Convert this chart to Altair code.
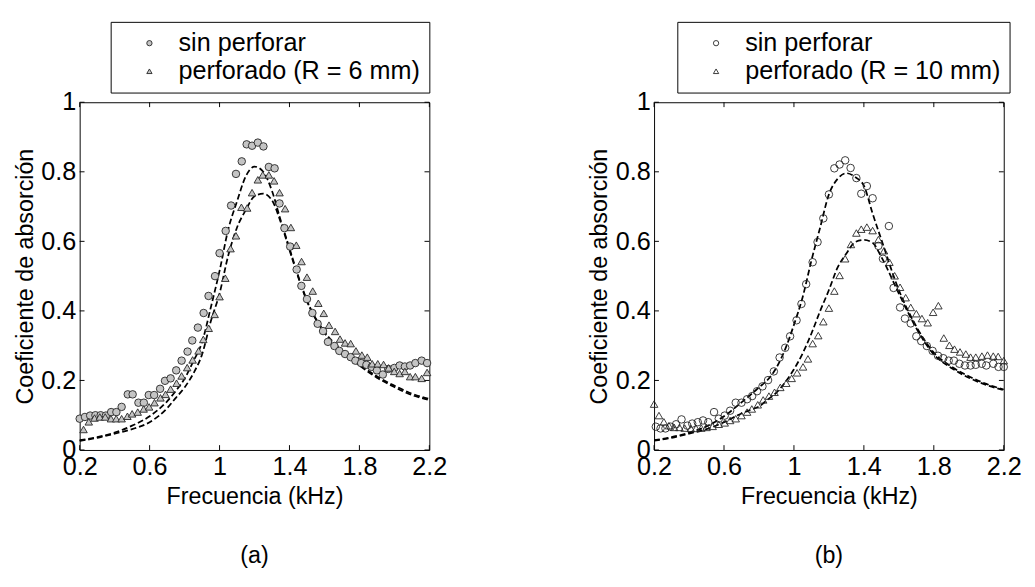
import altair as alt
import pandas as pd

FONT = "Liberation Sans"
FS_TICK = 26
FS_TITLE = 24
FS_LEG = 26
W, H = 361, 359

x_ticks = [0.2, 0.6, 1.0, 1.4, 1.8, 2.2]
y_ticks = [0, 0.2, 0.4, 0.6, 0.8, 1.0]

# ---------- panel (a) ----------
a_circ_f = [0.20, 0.23, 0.26, 0.29, 0.32, 0.35, 0.38, 0.41, 0.44, 0.475,
            0.503, 0.536, 0.567, 0.595, 0.626, 0.66, 0.688, 0.72, 0.752, 0.783,
            0.817, 0.844, 0.876, 0.909, 0.937, 0.974, 1.0, 1.035, 1.066, 1.094,
            1.127, 1.155, 1.186, 1.219, 1.251, 1.282, 1.315, 1.343, 1.371, 1.404,
            1.441, 1.468, 1.5, 1.531, 1.561, 1.592, 1.62, 1.657, 1.685, 1.718,
            1.75, 1.777, 1.81, 1.84, 1.87, 1.90, 1.934, 1.965, 2.0, 2.03,
            2.06, 2.09, 2.12, 2.156, 2.187]
a_circ_v = [0.09, 0.095, 0.099, 0.10, 0.10, 0.099, 0.109, 0.109, 0.124, 0.16,
            0.16, 0.136, 0.136, 0.158, 0.158, 0.176, 0.199, 0.206, 0.229, 0.257,
            0.283, 0.315, 0.352, 0.394, 0.443, 0.50, 0.566, 0.63, 0.703, 0.794,
            0.83, 0.879, 0.875, 0.884, 0.873, 0.814, 0.81, 0.709, 0.638, 0.585,
            0.519, 0.472, 0.434, 0.394, 0.363, 0.342, 0.311, 0.299, 0.285, 0.276,
            0.267, 0.257, 0.25, 0.245, 0.239, 0.229, 0.217, 0.233, 0.236, 0.243,
            0.24, 0.243, 0.25, 0.257, 0.25]

a_tri_f = [0.222, 0.252, 0.285, 0.315, 0.346, 0.379, 0.409, 0.44, 0.473, 0.5,
           0.532, 0.566, 0.597, 0.628, 0.662, 0.691, 0.72, 0.754, 0.783, 0.815,
           0.846, 0.88, 0.907, 0.938, 0.972, 1.0, 1.033, 1.063, 1.094, 1.125,
           1.158, 1.186, 1.219, 1.247, 1.282, 1.312, 1.343, 1.375, 1.408, 1.439,
           1.469, 1.5, 1.533, 1.565, 1.596, 1.626, 1.661, 1.689, 1.718, 1.75,
           1.78, 1.814, 1.845, 1.873, 1.905, 1.938, 1.967, 1.999, 2.03, 2.06,
           2.09, 2.12, 2.156, 2.187]
a_tri_v = [0.059, 0.081, 0.092, 0.095, 0.095, 0.09, 0.09, 0.09, 0.097, 0.104,
           0.109, 0.118, 0.124, 0.136, 0.15, 0.16, 0.175, 0.192, 0.213, 0.237,
           0.259, 0.285, 0.318, 0.35, 0.39, 0.441, 0.494, 0.579, 0.616, 0.698,
           0.696, 0.74, 0.777, 0.791, 0.791, 0.774, 0.74, 0.694, 0.64, 0.589,
           0.542, 0.497, 0.457, 0.422, 0.393, 0.359, 0.341, 0.319, 0.308, 0.306,
           0.285, 0.273, 0.267, 0.248, 0.248, 0.246, 0.236, 0.226, 0.22, 0.226,
           0.211, 0.211, 0.206, 0.223]

fit_f = [0.2, 0.3, 0.4, 0.5, 0.6, 0.7, 0.75, 0.8, 0.85, 0.9, 0.95, 1.0, 1.05,
         1.1, 1.15, 1.2, 1.25, 1.3, 1.35, 1.4, 1.45, 1.5, 1.6, 1.7, 1.8, 1.9,
         2.0, 2.1, 2.2]
a_fit_sin = [0.028, 0.037, 0.05, 0.07, 0.097, 0.14, 0.17, 0.205, 0.255, 0.31,
             0.41, 0.515, 0.635, 0.715, 0.787, 0.815, 0.80, 0.745, 0.66, 0.58,
             0.50, 0.43, 0.34, 0.287, 0.247, 0.212, 0.185, 0.162, 0.147]
a_fit_perf = [0.026, 0.035, 0.047, 0.06, 0.08, 0.12, 0.15, 0.18, 0.22, 0.275,
              0.37, 0.45, 0.56, 0.64, 0.69, 0.73, 0.737, 0.718, 0.655, 0.575,
              0.497, 0.428, 0.337, 0.283, 0.243, 0.208, 0.181, 0.158, 0.144]

# ---------- panel (b) ----------
b_circ_f = [0.21, 0.237, 0.265, 0.295, 0.326, 0.357, 0.39, 0.418, 0.45, 0.48,
            0.51, 0.543, 0.57, 0.604, 0.635, 0.667, 0.70, 0.732, 0.761, 0.789,
            0.82, 0.852, 0.885, 0.918, 0.95, 0.978, 1.015, 1.043, 1.07, 1.107,
            1.135, 1.168, 1.2, 1.231, 1.261, 1.293, 1.324, 1.357, 1.385, 1.417,
            1.45, 1.483, 1.509, 1.543, 1.57, 1.607, 1.635, 1.668, 1.70, 1.728,
            1.76, 1.793, 1.824, 1.854, 1.885, 1.915, 1.946, 1.978, 2.01, 2.04,
            2.074, 2.10, 2.14, 2.17, 2.2]
b_circ_v = [0.067, 0.062, 0.062, 0.067, 0.074, 0.088, 0.07, 0.076, 0.08, 0.085,
            0.08, 0.109, 0.09, 0.099, 0.113, 0.136, 0.136, 0.146, 0.155, 0.169,
            0.183, 0.201, 0.226, 0.266, 0.294, 0.327, 0.373, 0.42, 0.477, 0.54,
            0.598, 0.666, 0.735, 0.81, 0.821, 0.833, 0.811, 0.782, 0.737, 0.759,
            0.724, 0.587, 0.55, 0.644, 0.466, 0.41, 0.378, 0.364, 0.327, 0.313,
            0.299, 0.285, 0.271, 0.264, 0.257, 0.257, 0.248, 0.243, 0.243, 0.245,
            0.248, 0.243, 0.248, 0.239, 0.239]

b_tri_f = [0.2, 0.228, 0.256, 0.285, 0.315, 0.345, 0.375, 0.41, 0.44, 0.47,
           0.5, 0.535, 0.57, 0.604, 0.635, 0.667, 0.70, 0.732, 0.759, 0.793,
           0.824, 0.857, 0.889, 0.922, 0.956, 0.987, 1.018, 1.052, 1.08, 1.107,
           1.139, 1.168, 1.2, 1.231, 1.261, 1.293, 1.326, 1.357, 1.385, 1.417,
           1.45, 1.483, 1.515, 1.546, 1.576, 1.607, 1.639, 1.668, 1.70, 1.732,
           1.765, 1.796, 1.826, 1.857, 1.889, 1.918, 1.95, 1.983, 2.01, 2.04,
           2.075, 2.107, 2.14, 2.168, 2.2]
b_tri_v = [0.132, 0.099, 0.081, 0.07, 0.065, 0.065, 0.063, 0.062, 0.062, 0.063,
           0.065, 0.068, 0.074, 0.078, 0.085, 0.09, 0.099, 0.109, 0.118, 0.13,
           0.144, 0.155, 0.166, 0.18, 0.192, 0.206, 0.222, 0.239, 0.262, 0.306,
           0.329, 0.369, 0.408, 0.457, 0.502, 0.55, 0.591, 0.624, 0.635, 0.641,
           0.631, 0.605, 0.573, 0.54, 0.501, 0.468, 0.438, 0.41, 0.392, 0.378,
           0.366, 0.396, 0.415, 0.322, 0.301, 0.29, 0.282, 0.276, 0.267, 0.267,
           0.27, 0.273, 0.27, 0.269, 0.257]

b_fit_sin = [0.028, 0.037, 0.05, 0.068, 0.097, 0.137, 0.158, 0.18, 0.202, 0.237,
             0.29, 0.36, 0.44, 0.545, 0.64, 0.735, 0.78, 0.796, 0.785, 0.76,
             0.68, 0.605, 0.46, 0.355, 0.28, 0.24, 0.212, 0.19, 0.174]
b_fit_perf = [0.027, 0.035, 0.047, 0.06, 0.08, 0.105, 0.115, 0.125, 0.145, 0.165,
              0.195, 0.232, 0.278, 0.335, 0.40, 0.46, 0.525, 0.565, 0.598, 0.604,
              0.596, 0.555, 0.45, 0.35, 0.275, 0.236, 0.208, 0.187, 0.172]

MARK_STROKE = "#222222"


def panel(circ_f, circ_v, tri_f, tri_v, fit_sin, fit_perf, lab_sin, lab_perf,
          fill, legend_x, title):
    pts = pd.DataFrame(
        {"f": circ_f + tri_f,
         "a": circ_v + tri_v,
         "serie": [lab_sin] * len(circ_f) + [lab_perf] * len(tri_f)})
    fits = pd.DataFrame(
        {"f": fit_f + fit_f,
         "a": fit_sin + fit_perf,
         "curva": ["c1"] * len(fit_f) + ["c2"] * len(fit_f)})

    xenc = alt.X("f:Q", scale=alt.Scale(domain=[0.2, 2.2], nice=False, zero=False),
                 axis=alt.Axis(values=x_ticks, format="~g", title="Frecuencia (kHz)",
                               titlePadding=6))
    yenc = alt.Y("a:Q", scale=alt.Scale(domain=[0, 1], nice=False),
                 axis=alt.Axis(values=y_ticks, format="~g",
                               title="Coeficiente de absorción"))

    lines = alt.Chart(fits).mark_line(
        color="black", strokeDash=[6, 3], strokeWidth=1.8, interpolate="monotone"
    ).encode(x=xenc, y=yenc, detail="curva:N")

    dom = [lab_sin, lab_perf]
    leg = alt.Legend(
        title=None, orient="none", legendX=legend_x, legendY=-83,
        strokeColor="black", fillColor="white", padding=9,
        symbolOffset=18, labelOffset=17, rowPadding=3,
        labelFont=FONT, labelFontSize=FS_LEG, labelColor="black", labelLimit=600,
        symbolSize=30, symbolStrokeWidth=0.9,
    )
    points = alt.Chart(pts).mark_point(
        filled=True, strokeWidth=0.9, size=60, opacity=1
    ).encode(
        x=xenc, y=yenc,
        shape=alt.Shape("serie:N", scale=alt.Scale(domain=dom,
                        range=["circle", "triangle-up"]), legend=leg),
        fill=alt.Fill("serie:N", scale=alt.Scale(domain=dom, range=[fill, fill]),
                      legend=leg),
        stroke=alt.Stroke("serie:N", scale=alt.Scale(domain=dom,
                          range=[MARK_STROKE, MARK_STROKE]), legend=leg),
    )

    xt = pd.DataFrame({"f": x_ticks})
    yt = pd.DataFrame({"a": y_ticks})
    tick_b = alt.Chart(xt).mark_rule(color="black").encode(
        x=xenc, y=alt.value(H), y2=alt.value(H - 5))
    tick_t = alt.Chart(xt).mark_rule(color="black").encode(
        x=xenc, y=alt.value(0), y2=alt.value(5))
    tick_l = alt.Chart(yt).mark_rule(color="black").encode(
        y=yenc, x=alt.value(0), x2=alt.value(5))
    tick_r = alt.Chart(yt).mark_rule(color="black").encode(
        y=yenc, x=alt.value(W), x2=alt.value(W - 5))

    return alt.layer(lines, points, tick_b, tick_t, tick_l, tick_r).properties(
        width=W, height=H,
        title=alt.TitleParams(title, orient="bottom", offset=38, font=FONT,
                              fontSize=FS_TITLE, fontWeight="normal", color="black"),
    )


left = panel(a_circ_f, a_circ_v, a_tri_f, a_tri_v, a_fit_sin, a_fit_perf,
             "sin perforar", "perforado (R = 6 mm)", "#c4c4c4", 32, "(a)")
right = panel(b_circ_f, b_circ_v, b_tri_f, b_tri_v, b_fit_sin, b_fit_perf,
              "sin perforar ", "perforado (R = 10 mm)", "transparent", 24, "(b)")

chart = alt.hconcat(left, right, spacing=144).resolve_scale(
    shape="independent", fill="independent", stroke="independent"
).resolve_legend(
    shape="independent", fill="independent", stroke="independent"
).properties(
    padding={"left": 5, "top": 4, "right": 5, "bottom": 5}
).configure_view(stroke="black", strokeWidth=1).configure_axis(
    labelFont=FONT, labelFontSize=FS_TICK, labelColor="black", labelFlush=False,
    titleFont=FONT, titleFontSize=FS_TITLE, titleFontWeight="normal",
    titleColor="black", ticks=False, domain=False, grid=False,
    labelPadding=4, titlePadding=4,
)

chart.save("out.html", embed_options={"renderer": "svg", "actions": False})
